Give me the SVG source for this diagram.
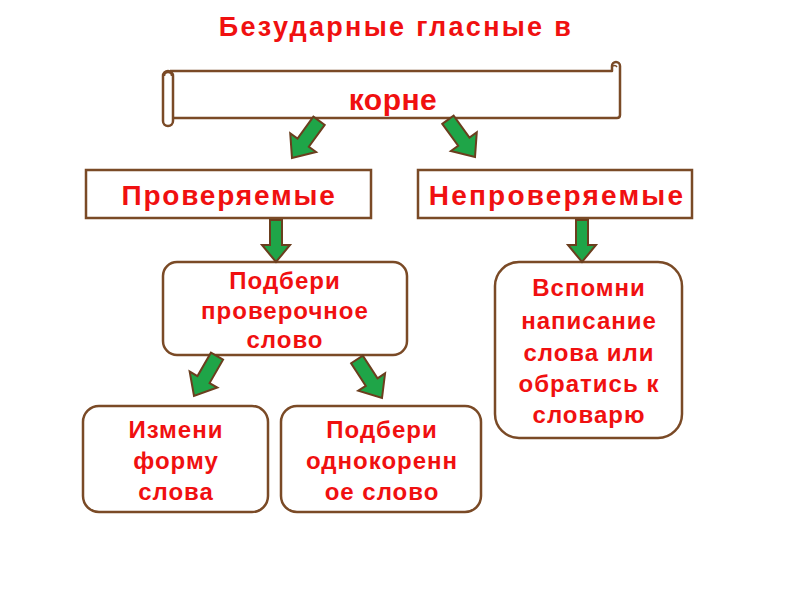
<svg xmlns="http://www.w3.org/2000/svg" width="800" height="600" viewBox="0 0 800 600">
<style>
.t{font-family:"Liberation Sans",Arial,sans-serif;font-weight:bold;fill:#F01010;text-anchor:middle}
.b{font-size:24px;letter-spacing:1px}
.box{fill:#FFFFFF;stroke:#7A4A26;stroke-width:2.5}
.scroll{fill:#FFFFFF;stroke:#7A4A26;stroke-width:2.5;stroke-linejoin:round}
.arr{fill:#1FA548;stroke:#6B3E1E;stroke-width:2;stroke-linejoin:miter}
</style>
<defs>
<path id="ad" d="M-6,-42 H6 V-17 H14 L0,0 L-14,-17 H-6 Z"/>
<path id="ag" d="M-7,-46 H7 V-19 H16 L0,0 L-16,-19 H-7 Z"/>
</defs>
<rect width="800" height="600" fill="#FFFFFF"/>
<text class="t" x="396" y="36" font-size="27" letter-spacing="2.3">Безударные гласные в</text>
<g id="scroll">
<path class="scroll" d="M170,71 H612 V66 A4,4 0 0 1 620,66 V115 Q620,118 617,118 H172"/>
<rect class="scroll" x="163" y="71" width="10" height="55" rx="5"/>
<path class="scroll" d="M164,76 A4,4 0 0 1 172,76" fill="none"/>
<path d="M613,66 A3,3 0 0 1 617,67" fill="none" stroke="#7A4A26" stroke-width="1.5"/>
<text class="t" x="393" y="110" font-size="30" letter-spacing="0.5">корне</text>
</g>
<g id="n1"><rect class="box" x="86" y="170" width="285" height="48"/><text class="t" x="229" y="205" font-size="28" letter-spacing="1.8">Проверяемые</text></g>
<g id="n2"><rect class="box" x="418" y="170" width="274" height="48"/><text class="t" x="557" y="205" font-size="28" letter-spacing="2.2">Непроверяемые</text></g>
<g id="n3"><rect class="box" x="163" y="262" width="244" height="93" rx="14"/><text class="t b"><tspan x="285" y="289">Подбери</tspan><tspan x="285" y="319">проверочное</tspan><tspan x="285" y="348">слово</tspan></text></g>
<g id="n4"><rect class="box" x="495" y="262" width="187" height="176" rx="24"/><text class="t b"><tspan x="589" y="296">Вспомни</tspan><tspan x="589" y="329">написание</tspan><tspan x="589" y="361">слова или</tspan><tspan x="589" y="392">обратись к</tspan><tspan x="589" y="423">словарю</tspan></text></g>
<g id="n5"><rect class="box" x="83" y="406" width="185" height="106" rx="16"/><text class="t b" letter-spacing="1.5"><tspan x="176" y="438">Измени</tspan><tspan x="176" y="469">форму</tspan><tspan x="176" y="500">слова</tspan></text></g>
<g id="n6"><rect class="box" x="281" y="406" width="200" height="106" rx="16"/><text class="t b"><tspan x="382" y="438">Подбери</tspan><tspan x="382" y="469">однокоренн</tspan><tspan x="382" y="500">ое слово</tspan></text></g>
<g id="connectors">
<use href="#ag" class="arr" transform="translate(292,158) rotate(36)"/>
<use href="#ag" class="arr" transform="translate(475,157) rotate(-36)"/>
<use href="#ad" class="arr" transform="translate(276,262)"/>
<use href="#ad" class="arr" transform="translate(582,262)"/>
<use href="#ag" class="arr" transform="translate(194,396) rotate(30)"/>
<use href="#ag" class="arr" transform="translate(382,398) rotate(-33)"/>
</g>
</svg>
